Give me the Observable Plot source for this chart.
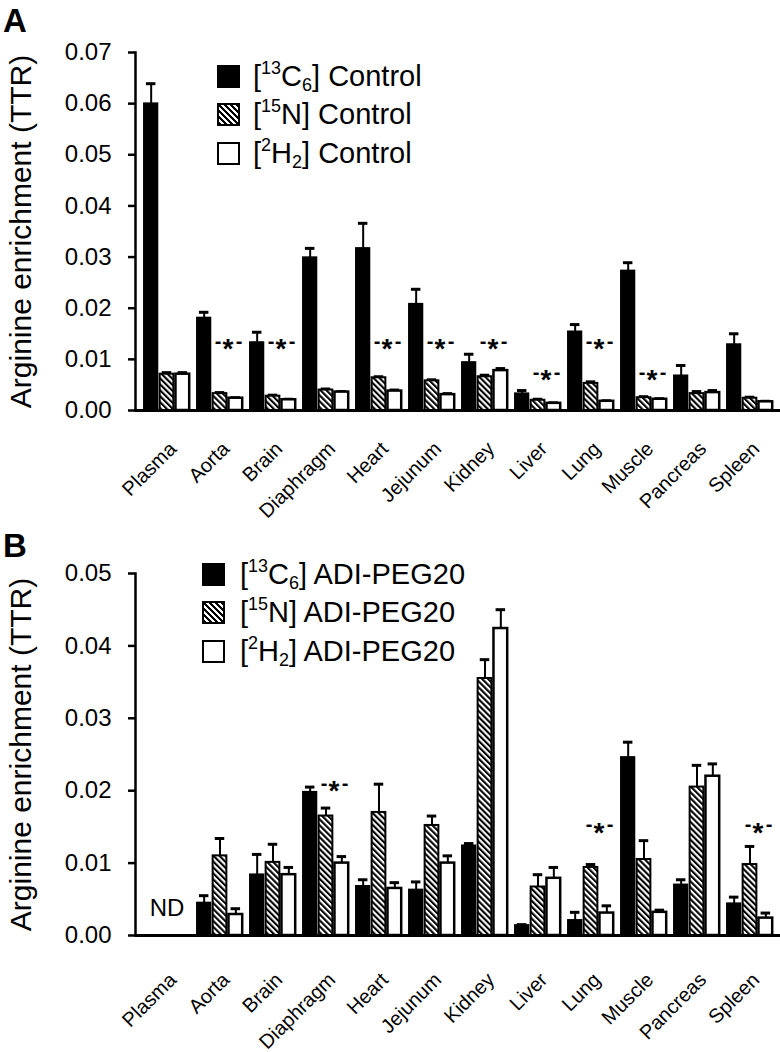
<!DOCTYPE html>
<html><head><meta charset="utf-8">
<script src="https://cdn.jsdelivr.net/npm/d3@7"></script>
<script src="https://cdn.jsdelivr.net/npm/@observablehq/plot@0.6"></script>
<style>
body{margin:0;background:#fff;}
#wrap{position:relative;width:780px;height:1052px;font-family:"Liberation Sans",Arial,sans-serif;color:#000;overflow:hidden;}
.panel{position:absolute;left:0;}
.letter{position:absolute;left:3px;font-weight:bold;font-size:33px;line-height:1;}
.legend{position:absolute;font-size:29px;}
.legend .row{display:flex;align-items:center;height:38.5px;white-space:nowrap;}
.sw{width:19px;height:19px;border:2px solid #000;margin-right:13px;flex:none;}
.sw.black{background:#000;}
.sw.hatch{background:repeating-linear-gradient(45deg,#000 0 2px,#fff 2px 4.2px);}
.sw.white{background:#fff;}
.up{font-size:0.62em;position:relative;top:-0.66em;vertical-align:baseline;line-height:0;}
.dn{font-size:0.62em;position:relative;top:0.3em;vertical-align:baseline;line-height:0;}
</style></head>
<body>
<div id="wrap">
  <div class="panel" id="panelA" style="top:0"></div>
  <div class="panel" id="panelB" style="top:525px"></div>
  <div class="letter" style="top:4px">A</div>
  <div class="letter" style="top:529px">B</div>
  <div class="legend" style="left:217px;top:57px">
    <div class="row"><span class="sw black"></span><span>[<span class="up">13</span>C<span class="dn">6</span>] Control</span></div>
    <div class="row"><span class="sw hatch"></span><span>[<span class="up">15</span>N] Control</span></div>
    <div class="row"><span class="sw white"></span><span>[<span class="up">2</span>H<span class="dn">2</span>] Control</span></div>
  </div>
  <div class="legend" style="left:202px;top:555px">
    <div class="row"><span class="sw black" style="margin-right:15px"></span><span>[<span class="up">13</span>C<span class="dn">6</span>] ADI-PEG20</span></div>
    <div class="row"><span class="sw hatch" style="margin-right:15px"></span><span>[<span class="up">15</span>N] ADI-PEG20</span></div>
    <div class="row"><span class="sw white" style="margin-right:15px"></span><span>[<span class="up">2</span>H<span class="dn">2</span>] ADI-PEG20</span></div>
  </div>
</div>
<script>
// ---------- data ----------
const tissues = ["Plasma","Aorta","Brain","Diaphragm","Heart","Jejunum","Kidney","Liver","Lung","Muscle","Pancreas","Spleen"];

// Panel A: control
const ctlC13    = [0.0600,0.0181,0.0133,0.0299,0.0317,0.0208,0.0094,0.0033,0.0154,0.0273,0.0068,0.0129];
const ctlC13Err = [0.0039,0.0011,0.0020,0.0018,0.0049,0.0029,0.0016,0.0006,0.0014,0.0016,0.0020,0.0021];
const ctlN15    = [0.0071,0.0033,0.0028,0.0040,0.0064,0.0058,0.0066,0.0020,0.0053,0.0025,0.0033,0.0024];
const ctlN15Err = [0.0003,0.0002,0.0002,0.0002,0.0002,0.0002,0.0003,0.0002,0.0003,0.0002,0.0004,0.0002];
const ctlH2     = [0.0071,0.0024,0.0021,0.0036,0.0038,0.0031,0.0078,0.0014,0.0018,0.0022,0.0035,0.0017];
const ctlH2Err  = [0.0003,0.0001,0.0001,0.0001,0.0002,0.0002,0.0004,0.0001,0.0001,0.0001,0.0004,0.0001];
const starsATissue = ["Aorta","Brain","Heart","Jejunum","Kidney","Liver","Lung","Muscle"];
const starsAY      = [0.0135,0.0135,0.0135,0.0135,0.0135,0.0075,0.0135,0.0075];
const yTicksA = [0,0.01,0.02,0.03,0.04,0.05,0.06,0.07];

// Panel B: ADI-PEG20 (Plasma not detected)
const adiC13    = [null,0.0045,0.0084,0.0198,0.0068,0.0063,0.0124,0.0014,0.0021,0.0246,0.0070,0.0044];
const adiC13Err = [null,0.0010,0.0028,0.0007,0.0009,0.0011,0.0003,0.0001,0.0011,0.0021,0.0007,0.0009];
const adiN15    = [null,0.0110,0.0101,0.0165,0.0170,0.0152,0.0355,0.0067,0.0094,0.0105,0.0205,0.0098];
const adiN15Err = [null,0.0024,0.0025,0.0011,0.0039,0.0013,0.0026,0.0017,0.0004,0.0026,0.0030,0.0025];
const adiH2     = [null,0.0029,0.0084,0.0100,0.0065,0.0100,0.0424,0.0079,0.0031,0.0032,0.0220,0.0024];
const adiH2Err  = [null,0.0008,0.0010,0.0009,0.0008,0.0010,0.0026,0.0015,0.0010,0.0003,0.0017,0.0007];
const starsBTissue = ["Diaphragm","Lung","Spleen"];
const starsBY      = [0.0210,0.0153,0.0153];
const notesBTissue = ["Plasma"];
const notesBText   = ["ND"];
const notesBY      = [0.0038];
const yTicksB = [0,0.01,0.02,0.03,0.04,0.05];

const yLabel = "Arginine enrichment (TTR)";

// ---------- drawing ----------
const W = 780, ML = 135, MR = 0, PI = 0.117, PO = 0.053;
const step = (W - ML - MR) / (tissues.length - PI + 2 * PO);
const bw = step * (1 - PI);
const third = bw / 3;

function rows(vals, errs) {
  return tissues.map((t, i) => ({tissue: t, value: vals[i], err: errs[i]})).filter(d => d.value != null);
}

function panel(cfg) {
  const series = [
    {rows: rows(cfg.c13, cfg.c13e), fill: "black", sw: 1.5},
    {rows: rows(cfg.n15, cfg.n15e), fill: `url(#${cfg.hatchId})`, sw: 2},
    {rows: rows(cfg.h2, cfg.h2e), fill: "white", sw: 2.5}
  ];
  const marks = [
    Plot.axisY({ticks: cfg.yTicks, tickFormat: d3.format(".2f"), tickSize: 7, tickPadding: 17, fontSize: 24, strokeWidth: 2.5, label: null}),
    Plot.text(tissues, {x: d => d, frameAnchor: "bottom", rotate: -45, textAnchor: "end", lineAnchor: "middle",
      dx: 6, dy: cfg.labelDy, fontSize: 20}),
    Plot.text([yLabel], {frameAnchor: "left", textAnchor: "middle", rotate: -90, dx: -114, fontSize: 30})
  ];
  series.forEach((s, k) => {
    const center = (k + 0.5) * third;
    const off = center - bw / 2;
    marks.push(
      Plot.ruleX(s.rows, {x: "tissue", y1: "value", y2: d => d.value + d.err, dx: off, stroke: "black", strokeWidth: 2}),
      Plot.tickY(s.rows, {x: "tissue", y: d => d.value + d.err, insetLeft: center - 5, insetRight: bw - center - 5, stroke: "black", strokeWidth: 3}),
      Plot.barY(s.rows, {x: "tissue", y: "value", fill: s.fill, stroke: "black", strokeWidth: s.sw,
        insetLeft: k * third + 0.8, insetRight: (2 - k) * third + 0.8})
    );
  });
  const stars = cfg.starT.map((t, i) => ({tissue: t, y: cfg.starY[i]}));
  marks.push(
    Plot.text(stars, {x: "tissue", y: "y", text: () => "*", dx: 8, dy: 8, fontSize: 28, fontWeight: "bold"}),
    Plot.text(stars, {x: "tissue", y: "y", text: () => "-", dx: -2, dy: 0, fontSize: 20, fontWeight: "bold"}),
    Plot.text(stars, {x: "tissue", y: "y", text: () => "-", dx: 19, dy: 0, fontSize: 20, fontWeight: "bold"})
  );
  if (cfg.notesT) {
    const notes = cfg.notesT.map((t, i) => ({tissue: t, y: cfg.notesY[i], text: cfg.notesText[i]}));
    marks.push(Plot.text(notes, {x: "tissue", y: "y", text: "text", fontSize: 24}));
  }
  marks.push(
    Plot.frame({anchor: "left", stroke: "black", strokeWidth: 2.5}),
    Plot.ruleY([0], {stroke: "black", strokeWidth: 3})
  );
  const svg = Plot.plot({
    width: W, height: cfg.height,
    marginLeft: ML, marginRight: MR, marginTop: cfg.mt, marginBottom: cfg.mb,
    x: {domain: tissues, paddingInner: PI, paddingOuter: PO, axis: null},
    y: {domain: [0, cfg.yMax], axis: null},
    style: {fontFamily: "'Liberation Sans', Arial, sans-serif", color: "black", background: "white", overflow: "visible"},
    marks
  });
  d3.select(svg).insert("defs", ":first-child").html(
    `<pattern id="${cfg.hatchId}" patternUnits="userSpaceOnUse" width="4.2" height="4.2" patternTransform="rotate(-45)">` +
    `<rect width="4.2" height="4.2" fill="white"/><rect width="2.1" height="4.2" fill="black"/></pattern>`);
  return svg;
}

document.getElementById("panelA").appendChild(panel({
  c13: ctlC13, c13e: ctlC13Err, n15: ctlN15, n15e: ctlN15Err, h2: ctlH2, h2e: ctlH2Err,
  starT: starsATissue, starY: starsAY, yTicks: yTicksA, yMax: 0.07,
  height: 525, mt: 52, mb: 115, hatchId: "hatchA", labelDy: 35
}));
document.getElementById("panelB").appendChild(panel({
  c13: adiC13, c13e: adiC13Err, n15: adiN15, n15e: adiN15Err, h2: adiH2, h2e: adiH2Err,
  starT: starsBTissue, starY: starsBY, yTicks: yTicksB, yMax: 0.05,
  notesT: notesBTissue, notesY: notesBY, notesText: notesBText,
  height: 527, mt: 48, mb: 117, hatchId: "hatchB", labelDy: 41
}));
</script>
</body></html>
